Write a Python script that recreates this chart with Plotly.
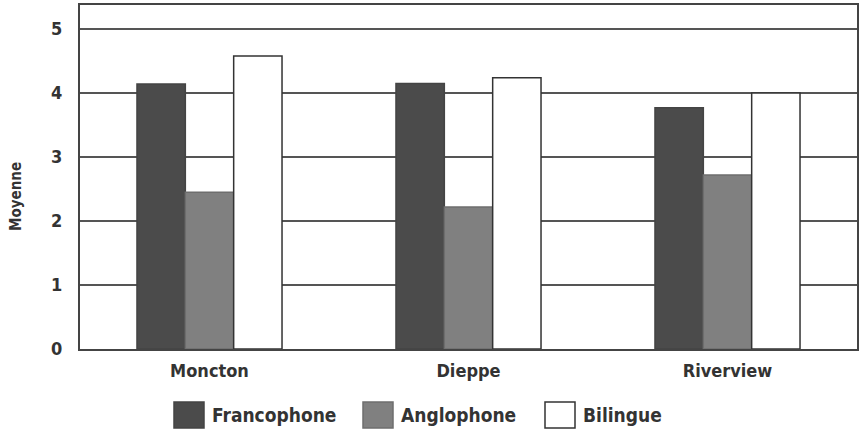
import plotly.graph_objects as go

categories = ["Moncton", "Dieppe", "Riverview"]
series_names = ["Francophone", "Anglophone", "Bilingue"]
francophone = [4.14, 4.15, 3.77]
anglophone = [2.45, 2.22, 2.72]
bilingue = [4.58, 4.24, 4.00]
y_ticks = [0, 1, 2, 3, 4, 5]

FONT = "DejaVu Sans Condensed, Liberation Sans Narrow, Arial Narrow, sans-serif"
fills = ["#4b4b4b", "#808080", "#ffffff"]
lines = ["#444444", "#6e6e6e", "#333333"]

W, H = 862, 431
ml, mr, mt, mb = 80, 5, 5, 82
pw, ph = W - ml - mr, H - mt - mb

fig = go.Figure()
for name, vals, fc, lc in zip(series_names, [francophone, anglophone, bilingue], fills, lines):
    fig.add_trace(go.Bar(
        x=categories, y=vals, name=name,
        marker=dict(color=fc, line=dict(color=lc, width=1.5)),
        showlegend=False,
    ))

def py(p):
    return (H - mb - p) / ph

def px(p):
    return (p - ml) / pw

# custom legend (boxes + labels) in paper coordinates
legend_x = [174, 363, 545]
shapes = []
annotations = []
for i, name in enumerate(series_names):
    shapes.append(dict(type="rect", xref="paper", yref="paper",
                       x0=px(legend_x[i]), x1=px(legend_x[i] + 30),
                       y0=py(428), y1=py(402),
                       fillcolor=fills[i], line=dict(color=lines[i], width=1.5)))
    annotations.append(dict(xref="paper", yref="paper",
                            x=px(legend_x[i] + 36), y=py(415),
                            xanchor="left", yanchor="middle", showarrow=False,
                            text="<b>%s</b>" % name,
                            font=dict(family=FONT, size=19, color="#333333")))

annotations.append(dict(xref="paper", yref="paper", x=px(16), y=py(197),
                        xanchor="center", yanchor="middle", showarrow=False,
                        textangle=-90, text="<b>Moyenne</b>",
                        font=dict(family=FONT, size=15, color="#333333")))

fig.update_layout(
    width=W, height=H,
    margin=dict(l=ml, r=mr, t=mt, b=mb, autoexpand=False),
    paper_bgcolor="white", plot_bgcolor="white",
    barmode="group", bargap=0.44, bargroupgap=0,
    font=dict(family=FONT, size=17, color="#333333"),
    shapes=shapes, annotations=annotations,
    hovermode=False,
    xaxis=dict(showline=True, linecolor="#444444", linewidth=2, mirror=True,
               ticks="", showgrid=False, automargin=False,
               tickvals=categories,
               ticktext=["<b>%s</b>" % c for c in categories],
               ticklabelstandoff=4,
               tickfont=dict(family=FONT, size=18, color="#333333")),
    yaxis=dict(range=[0, 5.375], tickvals=y_ticks,
               ticktext=["<b>%d</b>" % v for v in y_ticks],
               showline=True, linecolor="#444444", linewidth=2, mirror=True,
               showgrid=True, gridcolor="#555555", gridwidth=1.2,
               zeroline=False, ticks="", ticklabelstandoff=12,
               automargin=False,
               tickfont=dict(family=FONT, size=18, color="#333333")),
)

fig.write_html("out.html",
               config={"displayModeBar": False, "staticPlot": True},
               post_script="document.body.style.margin='0px';document.body.style.overflow='hidden';")
